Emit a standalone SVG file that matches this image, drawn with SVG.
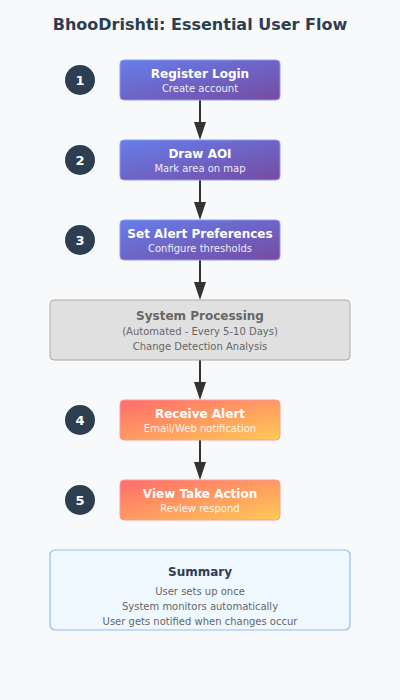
<svg xmlns="http://www.w3.org/2000/svg" width="400" height="700" viewBox="0 0 400 700">
<defs>
<linearGradient id="gp" x1="0" y1="0" x2="1" y2="1"><stop offset="0" stop-color="#667eea"/><stop offset="1" stop-color="#764ba2"/></linearGradient>
<linearGradient id="go" x1="0" y1="0" x2="1" y2="1"><stop offset="0" stop-color="#ff6b6b"/><stop offset="1" stop-color="#feca57"/></linearGradient>
<marker id="ah" markerWidth="18" markerHeight="12" refX="12" refY="6" orient="auto" markerUnits="userSpaceOnUse" viewBox="0 0 18 12"><path d="M0,0 L18,6 L0,12 Z" fill="#333"/></marker>
<style>
text{font-family:"DejaVu Sans",sans-serif;text-anchor:middle}
.t{font-size:12px;font-weight:bold;fill:#fff}
.s{font-size:10px;fill:#fff;fill-opacity:0.9}
.bp{fill:url(#gp);stroke:#8a9cf0;stroke-width:1}
.bo{fill:url(#go);stroke:#ff9a9a;stroke-width:1}
.c{fill:#2c3e50}
.n{font-size:13px;font-weight:bold;fill:#fff}
.a{stroke:#333;stroke-width:2;fill:none}
.g{font-size:10px;fill:#666}
</style>
</defs>
<rect width="400" height="700" fill="#f8f9fa"/>
<text x="200" y="30" style="font-size:16px;font-weight:bold;fill:#2c3e50">BhooDrishti: Essential User Flow</text>
<g id="connectors">
<line class="a" x1="200" y1="100" x2="200" y2="134" marker-end="url(#ah)"/>
<line class="a" x1="200" y1="180" x2="200" y2="214" marker-end="url(#ah)"/>
<line class="a" x1="200" y1="260" x2="200" y2="294" marker-end="url(#ah)"/>
<line class="a" x1="200" y1="360" x2="200" y2="394" marker-end="url(#ah)"/>
<line class="a" x1="200" y1="440" x2="200" y2="474" marker-end="url(#ah)"/>
</g>
<g id="step1">
<circle class="c" cx="80" cy="80" r="15"/><text class="n" x="80" y="85">1</text>
<rect class="bp" x="120" y="60" width="160" height="40" rx="4"/>
<text class="t" x="200" y="78">Register Login</text><text class="s" x="200" y="92">Create account</text>
</g>
<g id="step2">
<circle class="c" cx="80" cy="160" r="15"/><text class="n" x="80" y="165">2</text>
<rect class="bp" x="120" y="140" width="160" height="40" rx="4"/>
<text class="t" x="200" y="158">Draw AOI</text><text class="s" x="200" y="172">Mark area on map</text>
</g>
<g id="step3">
<circle class="c" cx="80" cy="240" r="15"/><text class="n" x="80" y="245">3</text>
<rect class="bp" x="120" y="220" width="160" height="40" rx="4"/>
<text class="t" x="200" y="238">Set Alert Preferences</text><text class="s" x="200" y="252">Configure thresholds</text>
</g>
<g id="system">
<rect x="50" y="300" width="300" height="60" rx="4" fill="#e0e0e0" stroke="#aaa" stroke-width="1"/>
<text x="200" y="320" style="font-size:12px;font-weight:bold;fill:#666">System Processing</text>
<text class="g" x="200" y="335">(Automated - Every 5-10 Days)</text>
<text class="g" x="200" y="350">Change Detection Analysis</text>
</g>
<g id="step4">
<circle class="c" cx="80" cy="420" r="15"/><text class="n" x="80" y="425">4</text>
<rect class="bo" x="120" y="400" width="160" height="40" rx="4"/>
<text class="t" x="200" y="418">Receive Alert</text><text class="s" x="200" y="432">Email/Web notification</text>
</g>
<g id="step5">
<circle class="c" cx="80" cy="500" r="15"/><text class="n" x="80" y="505">5</text>
<rect class="bo" x="120" y="480" width="160" height="40" rx="4"/>
<text class="t" x="200" y="498">View Take Action</text><text class="s" x="200" y="512">Review respond</text>
</g>
<g id="summary">
<rect x="50" y="550" width="300" height="80" rx="5" fill="#f0f8ff" stroke="#90bdf0" stroke-width="1.2"/>
<text x="200" y="576" style="font-size:12px;font-weight:bold;fill:#2c3e50">Summary</text>
<text class="g" x="200" y="595">User sets up once</text>
<text class="g" x="200" y="610">System monitors automatically</text>
<text class="g" x="200" y="625">User gets notified when changes occur</text>
</g>
</svg>
